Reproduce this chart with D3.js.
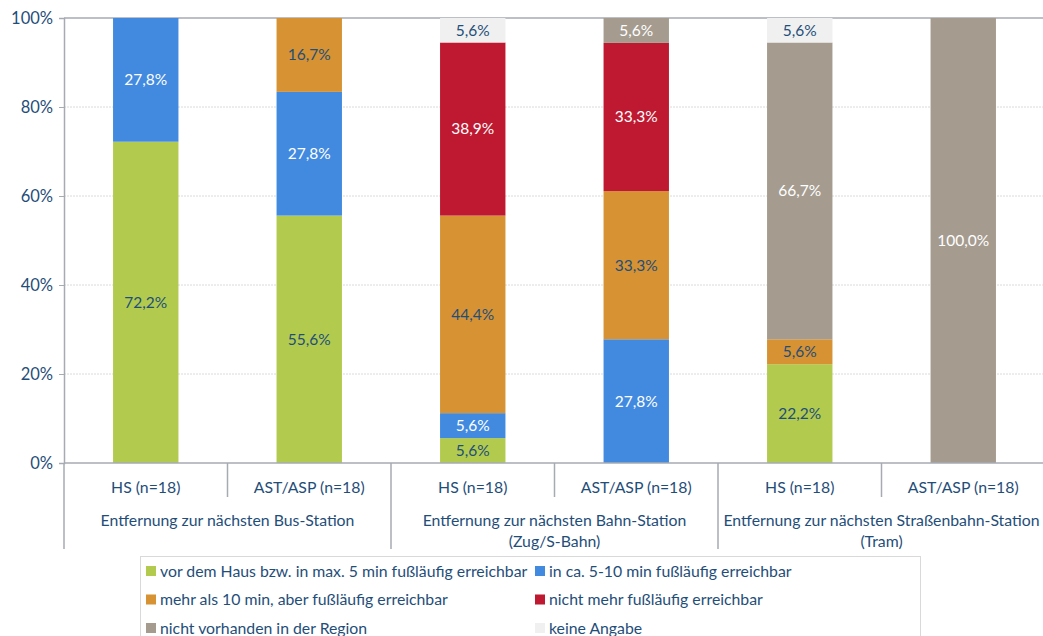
<!DOCTYPE html>
<html>
<head>
<meta charset="utf-8">
<script src="https://cdn.jsdelivr.net/npm/d3@7"></script>
<style>
  body { margin: 0; background: #fff; }
  text { font-family: Lato, "Open Sans", sans-serif; }
</style>
</head>
<body>
<script>
const categories = ["HS (n=18)", "AST/ASP (n=18)", "HS (n=18)", "AST/ASP (n=18)", "HS (n=18)", "AST/ASP (n=18)"];
const groups = [
    ["Entfernung zur nächsten Bus-Station"],
    ["Entfernung zur nächsten Bahn-Station", "(Zug/S-Bahn)"],
    ["Entfernung zur nächsten Straßenbahn-Station", "(Tram)"]
];
const seriesNames = [
    "vor dem Haus bzw. in max. 5 min fußläufig erreichbar",
    "in ca. 5-10 min fußläufig erreichbar",
    "mehr als 10 min, aber fußläufig erreichbar",
    "nicht mehr fußläufig erreichbar",
    "nicht vorhanden in der Region",
    "keine Angabe"
];
const nah = [72.2, 55.6, 5.6, 0, 22.2, 0];
const mittel = [27.8, 27.8, 5.6, 27.8, 0, 0];
const weit = [0, 16.7, 44.4, 33.3, 5.6, 0];
const nichtMehr = [0, 0, 38.9, 33.3, 0, 0];
const nichtVorhanden = [0, 0, 0, 5.6, 66.7, 100.0];
const keineAngabe = [0, 0, 5.6, 0, 5.6, 0];
const yTicks = [0, 20, 40, 60, 80, 100];

const colors = ["#b2cb4e", "#418ae0", "#d69233", "#be1931", "#a59c8f", "#f0f0f0"];
const labelColors = ["#1f4e79", "#ffffff", "#1f4e79", "#ffffff", "#ffffff", "#1f4e79"];
const textColor = "#1f4e79";
const axisColor = "#a6abb3";

const width = 1043, height = 636;
const svg = d3.select("body").append("svg")
    .attr("width", width)
    .attr("height", height);

const plotLeft = 64, plotRight = 1045, plotTop = 18, plotBottom = 463;

const keys = seriesNames.map((d, i) => i);
const allSeries = [nah, mittel, weit, nichtMehr, nichtVorhanden, keineAngabe];
const rows = categories.map((c, j) => {
    const r = {idx: j};
    keys.forEach(k => r[k] = allSeries[k][j]);
    return r;
});
const stacked = d3.stack().keys(keys)(rows);

const x = d3.scaleBand().domain(d3.range(categories.length))
    .range([plotLeft, plotRight]).paddingInner(0.6).paddingOuter(0.3);
const y = d3.scaleLinear().domain([0, 100]).range([plotBottom, plotTop]).clamp(true);

// gridlines
svg.append("g").selectAll("line")
    .data(yTicks.filter(t => t > 0 && t < 100))
    .join("line")
    .attr("x1", plotLeft).attr("x2", width)
    .attr("y1", d => y(d)).attr("y2", d => y(d))
    .attr("stroke", "#dadada")
    .attr("stroke-dasharray", "2,1");

svg.append("line")
    .attr("x1", plotLeft).attr("x2", width)
    .attr("y1", y(100)).attr("y2", y(100))
    .attr("stroke", axisColor).attr("stroke-width", 1.5);

// bars
const layer = svg.append("g").selectAll("g")
    .data(stacked)
    .join("g")
    .attr("fill", d => colors[d.key]);

layer.selectAll("rect")
    .data(d => d.filter(p => p[1] - p[0] > 0))
    .join("rect")
    .attr("x", d => x(d.data.idx))
    .attr("width", x.bandwidth())
    .attr("y", d => y(d[1]))
    .attr("height", d => y(d[0]) - y(d[1]));

// value labels
svg.append("g").selectAll("g")
    .data(stacked)
    .join("g")
    .attr("fill", d => labelColors[d.key])
    .selectAll("text")
    .data(d => d.filter(p => p[1] - p[0] > 0))
    .join("text")
    .attr("x", d => x(d.data.idx) + x.bandwidth() / 2)
    .attr("y", d => (y(d[0]) + y(d[1])) / 2)
    .attr("dy", "0.35em")
    .attr("text-anchor", "middle")
    .attr("font-size", 15.5)
    .text(d => (d[1] - d[0]).toFixed(1).replace(".", ",") + "%");

// y axis
const yAxis = svg.append("g")
    .attr("transform", `translate(${plotLeft},0)`)
    .call(d3.axisLeft(y).tickValues(yTicks).tickFormat(d => d + "%").tickSize(5).tickPadding(6));
yAxis.select(".domain").attr("stroke", axisColor).attr("stroke-width", 1.5);
yAxis.selectAll(".tick line").attr("stroke", axisColor);
yAxis.selectAll(".tick text").attr("fill", textColor).attr("font-size", 16.5)
    .attr("font-family", "Lato, 'Open Sans', sans-serif");

// x axis baseline
svg.append("line")
    .attr("x1", plotLeft).attr("x2", width)
    .attr("y1", plotBottom).attr("y2", plotBottom)
    .attr("stroke", axisColor).attr("stroke-width", 1.5);

const step = x.step();
// separators
svg.append("g").selectAll("line")
    .data(d3.range(1, categories.length, 2))
    .join("line")
    .attr("x1", d => plotLeft + d * step)
    .attr("x2", d => plotLeft + d * step)
    .attr("y1", plotBottom).attr("y2", 497)
    .attr("stroke", axisColor).attr("stroke-width", 1.5);
svg.append("g").selectAll("line")
    .data(d3.range(0, categories.length + 1, 2))
    .join("line")
    .attr("x1", d => plotLeft + d * step)
    .attr("x2", d => plotLeft + d * step)
    .attr("y1", plotBottom).attr("y2", 549)
    .attr("stroke", axisColor).attr("stroke-width", 1.5);

svg.append("g").selectAll("text")
    .data(categories)
    .join("text")
    .attr("x", (d, i) => x(i) + x.bandwidth() / 2)
    .attr("y", 487)
    .attr("dy", "0.35em")
    .attr("text-anchor", "middle")
    .attr("fill", textColor)
    .attr("font-size", 15.8)
    .text(d => d);

svg.append("g").selectAll("text")
    .data(groups)
    .join("text")
    .attr("x", (d, i) => plotLeft + (2 * i + 1) * step)
    .attr("y", 520)
    .attr("text-anchor", "middle")
    .attr("fill", textColor)
    .attr("font-size", 15.8)
    .selectAll("tspan")
    .data(d => d)
    .join("tspan")
    .attr("x", function() { return this.parentNode.getAttribute("x"); })
    .attr("dy", (d, i) => i === 0 ? "0.35em" : "1.35em")
    .text(d => d);

// legend
const legend = svg.append("g");
legend.append("rect")
    .attr("x", 140.5).attr("y", 556.5)
    .attr("width", 780).attr("height", 100)
    .attr("fill", "#fff").attr("stroke", "#d9d9d9");
const legendItems = legend.selectAll("g")
    .data(seriesNames)
    .join("g")
    .attr("transform", (d, i) => `translate(${i % 2 === 0 ? 146 : 535},${571 + Math.floor(i / 2) * 28.5})`);
legendItems.append("rect")
    .attr("x", 0).attr("y", -5)
    .attr("width", 10).attr("height", 10)
    .attr("fill", (d, i) => colors[i]);
legendItems.append("text")
    .attr("x", 14).attr("dy", "0.35em")
    .attr("fill", textColor)
    .attr("font-size", 15.8)
    .text(d => d);
</script>
</body>
</html>
